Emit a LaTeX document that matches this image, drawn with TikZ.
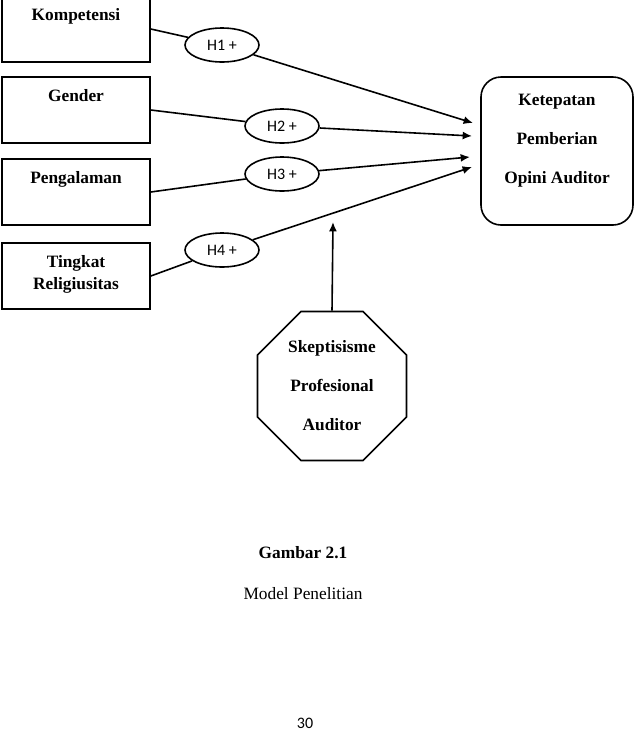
\documentclass[tikz,border=0pt]{standalone}
\usepackage{fontspec}
\setmainfont{Liberation Serif}
\newfontfamily\calibri{Carlito}
\usetikzlibrary{calc,shapes.geometric,arrows.meta}

\begin{document}
\begin{tikzpicture}[x=0.75pt,y=-0.75pt,line width=1.2pt,>={Latex[length=7pt,width=6pt]},
        var/.style={draw, minimum width=111pt, minimum height=49.5pt, inner sep=0pt},
        vartext/.style={anchor=north, yshift=-9pt, inner sep=0pt, align=center, font=\fontsize{13}{16.5}\selectfont\bfseries},
        hyp/.style={draw, ellipse, fill=white, minimum width=55.5pt, minimum height=25.5pt, inner sep=0pt, font=\calibri\fontsize{12}{14}\selectfont},
        bigtext/.style={align=center, font=\fontsize{13}{29.25}\selectfont\bfseries}]
        \useasboundingbox (0,0) rectangle (634,733);
        % Independent variables
        \node[var, label={[vartext]north:Kompetensi}] (komp) at (76,29) {};
        \node[var, label={[vartext]north:Gender}] (gend) at (76,110) {};
        \node[var, label={[vartext]north:Pengalaman}] (peng) at (76,192) {};
        \node[var, label={[vartext]north:{Tingkat\\Religiusitas}}] (ting) at (76,276) {};
        % Hypotheses
        \node[hyp] (h1) at (222,45) {H1 +};
        \node[hyp] (h2) at (282,126) {H2 +};
        \node[hyp] (h3) at (282,174) {H3 +};
        \node[hyp] (h4) at (222,250) {H4 +};
        % Dependent variable and moderator
        \node[draw, rounded corners=15pt, minimum width=114pt, minimum height=111pt,
            label={[bigtext, anchor=north, yshift=-12.75pt, inner sep=0pt]north:{Ketepatan\\Pemberian\\Opini Auditor}}] (opini) at (557,151) {};
        \node[draw, regular polygon, regular polygon sides=8, minimum size=121pt, inner sep=0pt, bigtext] (skep) at (332,386) {Skeptisisme\\Profesional\\Auditor};
        % Arrow ends
        \coordinate (t1) at (473,123); % H1 to Y
        \coordinate (t2) at (472,136); % H2 to Y
        \coordinate (t3) at (470,157); % H3 to Y
        \coordinate (t4) at (472,167); % H4 to Y
        \coordinate (tup) at (333,222); % moderation
        % Drawing the paths
        \draw (komp.east) -- (h1);
        \draw (gend.east) -- (h2);
        \draw (peng.east) -- (h3);
        \draw (ting.east) -- (h4);
        \draw[->] (h1) -- (t1);
        \draw[->] (h2) -- (t2);
        \draw[->] (h3) -- (t3);
        \draw[->] (h4) -- (t4);
        \draw[->] (skep.north) -- (tup);
        % Caption
        \node[font=\fontsize{13}{16}\selectfont\bfseries] (gambar) at (303,553) {Gambar 2.1};
        \node[font=\fontsize{13}{16}\selectfont] (judul) at (303,594) {Model Penelitian};
        \node[font=\calibri\fontsize{12}{14}\selectfont] (hal) at (305,723) {30};
    \end{tikzpicture}
\end{document}
